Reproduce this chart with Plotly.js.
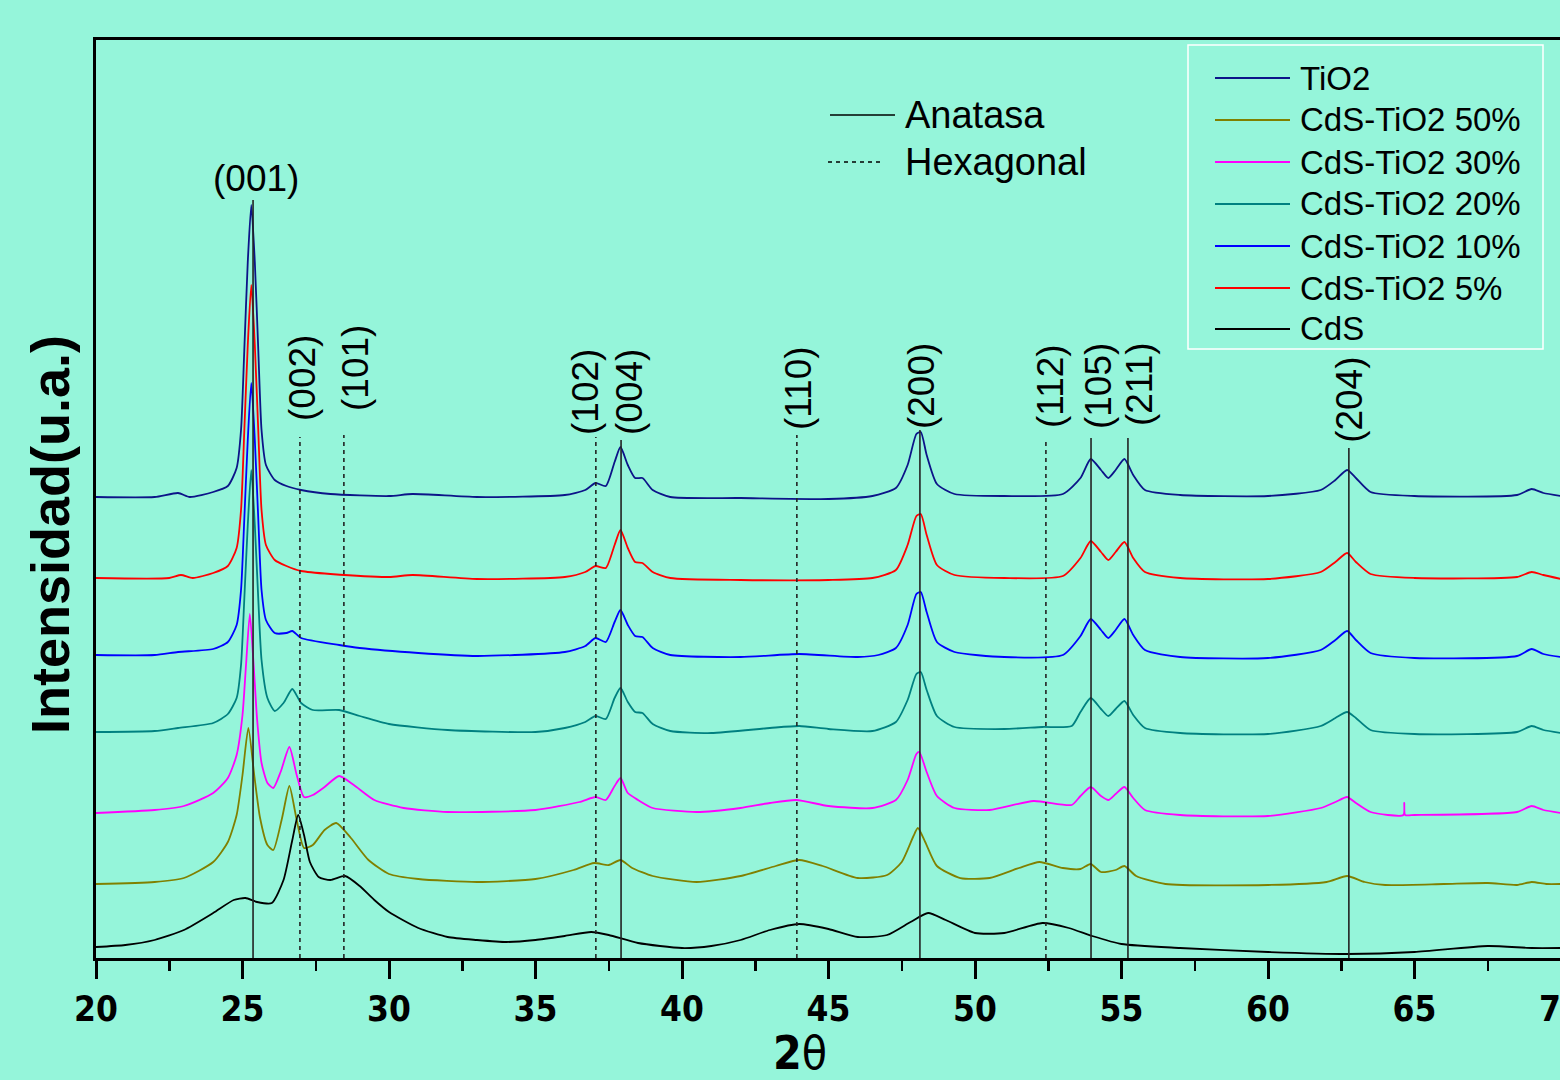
<!DOCTYPE html>
<html>
<head>
<meta charset="utf-8">
<script src="https://cdn.plot.ly/plotly-3.0.1.min.js"></script>
<style>
html,body{margin:0;padding:0;overflow:hidden;background:#95F5DA;}
#chart{width:1600px;height:1080px;}
</style>
</head>
<body>
<div id="chart"></div>
<script>
// ---- Data (2θ in degrees, intensity in a.u. incl. stacking offset) ----
const seriesNames = ['TiO2','CdS-TiO2 50%','CdS-TiO2 30%','CdS-TiO2 20%','CdS-TiO2 10%','CdS-TiO2 5%','CdS'];
const seriesColors = ['#0c1488','#808000','#ff00ff','#008080','#0000ff','#ff0000','#000000'];

const x_TiO2 = [20,22,22.8,23.2,24.0,24.5,24.8,24.95,25.06,25.18,25.3,25.42,25.54,25.65,25.8,26.1,26.5,27,28,30,30.8,33,36,36.7,37.05,37.4,37.7,37.9,38.15,38.4,38.65,39.0,39.6,42,45,46.5,47.3,47.7,48.0,48.15,48.35,48.7,49.3,51,53,53.6,53.95,54.3,54.55,54.8,55.1,55.4,55.8,57,60,61.8,62.3,62.7,63.0,63.5,65,68.5,69.0,69.4,70];
const y_TiO2 = [461,461,465,461,466,472,490,528,607,696,753,696,607,528,493,478,472,468,464,462,464,461,463,468,475,472,496,511,493,480,480,468,461,460,459,462,470,493,524,526,503,474,464,462,464,480,499,488,480,488,499,483,468,463,462,468,478,488,480,466,462,463,469,465,462];

const x_5 = [20,22.5,22.9,23.3,24.0,24.5,24.8,24.95,25.06,25.18,25.3,25.42,25.54,25.65,25.8,26.1,26.5,27,28,30,30.8,33,36,36.7,37.05,37.4,37.7,37.9,38.15,38.4,38.65,39.0,39.6,42,45,46.5,47.3,47.7,48.0,48.15,48.35,48.7,49.3,51,53,53.6,53.95,54.3,54.55,54.8,55.1,55.4,55.8,57,60,61.8,62.3,62.7,63.0,63.5,65,68.5,69.0,69.4,70];
const y_5 = [380,380,383,380,385,392,410,448,526,613,673,613,526,448,413,398,392,387,384,381,383,379,381,386,392,390,413,428,410,396,395,386,380,378,378,380,388,413,442,444,423,393,383,380,382,400,417,406,398,406,416,400,386,380,379,386,396,405,396,384,380,381,386,383,379];

const x_10 = [20,22,22.8,24.0,24.5,24.8,24.95,25.06,25.18,25.3,25.42,25.54,25.65,25.8,26.1,26.5,26.7,27.0,28.3,29,31,33,36,36.7,37.05,37.4,37.7,37.9,38.15,38.4,38.65,39.0,39.6,42,44,46,46.7,47.3,47.7,48.0,48.15,48.35,48.7,49.3,51,53,53.6,53.95,54.3,54.55,54.8,55.1,55.4,55.8,57,60,61.8,62.3,62.7,63.0,63.5,65,68.5,69.0,69.4,70];
const y_10 = [303,303,306,309,316,333,368,438,518,575,518,438,368,338,325,325,327,320,313,310,305,302,306,312,320,316,336,348,333,322,321,310,303,301,304,301,303,310,333,364,366,346,316,306,301,303,322,339,328,320,328,339,323,308,301,300,308,318,327,318,305,300,302,309,304,301];

const x_20 = [20,22,22.8,24.0,24.5,24.8,24.95,25.06,25.18,25.3,25.42,25.54,25.65,25.85,26.1,26.4,26.7,27.0,27.4,28.3,29,30,32,35,36,36.7,37.05,37.4,37.7,37.9,38.15,38.4,38.65,39.0,39.6,41,43,44,45,46.5,47.3,47.7,48.0,48.15,48.35,48.7,49.3,51,52.3,53.3,53.6,53.95,54.3,54.55,54.8,55.1,55.4,55.8,57,60,61.8,62.3,62.7,63.0,63.5,65,68.5,69.0,69.4,70];
const y_20 = [226,227,230,235,244,260,293,358,433,488,433,358,298,260,247,255,269,255,248,248,242,234,228,226,230,236,242,239,260,270,256,246,245,234,227,225,230,232,229,227,236,258,284,286,268,242,231,229,231,232,246,260,249,242,249,257,243,230,225,224,232,240,246,240,228,224,226,232,228,225];

const x_30 = [20,22,23,24.0,24.5,24.8,25.0,25.12,25.25,25.38,25.5,25.65,25.85,26.05,26.3,26.6,26.85,27.1,27.4,27.8,28.3,28.8,29.5,30.5,32,35,36.5,37.05,37.4,37.7,37.9,38.15,38.5,39.0,40.5,42,43,43.9,45,46.5,47.3,47.7,48.0,48.1,48.35,48.7,49.3,50.5,52,53.3,53.6,53.95,54.3,54.55,54.8,55.1,55.4,55.8,57,60,61.8,62.3,62.7,63.0,63.5,64.62,64.65,64.68,65,68.5,69.0,69.4,70];
const y_30 = [145,148,152,165,180,203,243,293,344,293,238,195,175,170,186,211,183,161,163,171,182,173,158,150,146,148,156,161,158,172,180,165,158,150,146,150,155,158,152,150,158,178,204,206,186,162,150,148,157,153,162,171,162,158,164,171,160,148,143,142,150,156,161,155,146,143,155,143,143,146,152,148,145];

const x_50 = [20,22,23,24.0,24.5,24.8,25.0,25.2,25.4,25.6,25.85,26.05,26.35,26.6,26.85,27.1,27.4,27.8,28.2,28.7,29.3,30.0,31,33,35,36.3,37.0,37.5,37.9,38.3,39,40.5,42,43.2,44.0,44.8,46,47,47.5,47.9,48.05,48.3,48.7,49.5,50.5,51.5,52.2,53,53.6,53.95,54.3,54.8,55.1,55.5,56.5,60,62.0,62.7,63.3,64,66,67.5,68.5,69.0,69.5,70];
const y_50 = [74,76,80,96,116,143,183,230,183,140,113,108,140,172,138,110,113,128,135,120,98,84,79,76,79,88,95,93,98,90,82,76,82,92,98,92,80,83,96,122,130,116,92,80,80,90,96,90,89,94,86,88,92,82,74,73,76,82,76,73,74,75,73,76,74,74];

const x_CdS = [20,21,22,23,24,24.7,25.1,25.5,26.0,26.4,26.7,26.9,27.1,27.3,27.6,28.0,28.5,29.0,29.5,30.0,31,32,33,34,35,36,36.9,37.5,38.5,40,41,42,43,44,45,46,47,47.8,48.4,49,50,51,52.3,53.2,54,55,57,60,62.7,65,67.5,69,70];
const y_CdS = [11,13,18,28,45,58,60,56,55,78,118,143,123,96,81,78,82,72,58,46,30,21,18,16,18,22,26,23,15,10,12,18,28,34,29,21,23,36,45,38,25,25,35,30,22,14,10,6,4,6,12,10,10];

// Reference phase lines (2θ) and their top (a.u.)
const anatasePos = [25.36, 37.92, 48.12, 53.96, 55.22, 62.76];
const anataseTop = [758, 518, 528, 520, 520, 510];
const hexPos = [26.96, 28.46, 37.06, 43.92, 52.42];
const hexTop = [521, 523, 521, 523, 516];

// Peak (hkl) labels
const hklText = ['(002)','(101)','(102)','(004)','(110)','(200)','(112)','(105)','(211)','(204)'];
const hklX = [27.03, 28.84, 36.69, 38.19, 43.96, 48.16, 52.56, 54.2, 55.6, 62.76];
const hklY = [580, 590, 566, 566, 570, 572, 572, 572, 574, 558];
const topLabel = '(001)';
const topLabelX = 25.46, topLabelY = 780;

const xTickVals = [20,25,30,35,40,45,50,55,60,65,70];

const xs = [x_TiO2, x_50, x_30, x_20, x_10, x_5, x_CdS];
const ys = [y_TiO2, y_50, y_30, y_20, y_10, y_5, y_CdS];

const traces = seriesNames.map((n,i)=>({
  type:'scatter', mode:'lines', name:n, x:xs[i], y:ys[i],
  line:{color:seriesColors[i], width:1.8, shape:'spline', smoothing:0.6},
  showlegend:false, hoverinfo:'skip'
}));

const shapes = [];
const annotations = [];
anatasePos.forEach((p,i)=>shapes.push({type:'line',xref:'x',yref:'y',x0:p,x1:p,y0:0,y1:anataseTop[i],line:{color:'#222',width:1.6},layer:'above'}));
hexPos.forEach((p,i)=>shapes.push({type:'line',xref:'x',yref:'y',x0:p,x1:p,y0:0,y1:hexTop[i],line:{color:'#222',width:1.6,dash:'4px,4px'},layer:'above'}));

const txtFont = {family:'Liberation Sans, Arial, sans-serif', color:'#000'};
hklText.forEach((t,i)=>annotations.push({xref:'x',yref:'y',x:hklX[i],y:hklY[i],text:t,showarrow:false,textangle:-90,
  font:Object.assign({size:37},txtFont),xanchor:'center',yanchor:'middle'}));
annotations.push({xref:'x',yref:'y',x:topLabelX,y:topLabelY,text:topLabel,showarrow:false,font:Object.assign({size:37},txtFont),xanchor:'center',yanchor:'middle'});

// pixel -> paper helpers (plot area: x 96..1561, y 40..958)
function px(x){return (x-96)/1465;}
function py(y){return (958-y)/918;}

// Phase legend (Anatasa / Hexagonal)
shapes.push({type:'line',xref:'paper',yref:'paper',x0:px(830),x1:px(895),y0:py(115),y1:py(115),line:{color:'#000',width:1.5}});
shapes.push({type:'line',xref:'paper',yref:'paper',x0:px(828),x1:px(882),y0:py(162),y1:py(162),line:{color:'#000',width:1.5,dash:'4px,4px'}});
annotations.push({xref:'paper',yref:'paper',x:px(903),y:py(115),text:'Anatasa',showarrow:false,xanchor:'left',yanchor:'middle',font:Object.assign({size:38},txtFont)});
annotations.push({xref:'paper',yref:'paper',x:px(903),y:py(162),text:'Hexagonal',showarrow:false,xanchor:'left',yanchor:'middle',font:Object.assign({size:38},txtFont)});

// Series legend box
shapes.push({type:'rect',xref:'paper',yref:'paper',x0:px(1188),x1:px(1543),y0:py(45),y1:py(349),line:{color:'#ffffff',width:1.5},fillcolor:'rgba(0,0,0,0)'});
const legRows = [78,120,162,204,246,288,329];
seriesNames.forEach((n,i)=>{
  shapes.push({type:'line',xref:'paper',yref:'paper',x0:px(1215),x1:px(1290),y0:py(legRows[i]),y1:py(legRows[i]),line:{color:seriesColors[i],width:1.8}});
  annotations.push({xref:'paper',yref:'paper',x:px(1298),y:py(legRows[i]),text:n,showarrow:false,xanchor:'left',yanchor:'middle',font:Object.assign({size:33},txtFont)});
});

// Y axis title
annotations.push({xref:'paper',yref:'paper',x:px(50),y:py(535),text:'<b>Intensidad(u.a.)</b>',showarrow:false,textangle:-90,xanchor:'center',yanchor:'middle',
  font:{family:'Liberation Sans, Arial, sans-serif',size:54,color:'#000'}});

// X axis title (placed like the reference, left of centre)
annotations.push({xref:'paper',yref:'paper',x:px(800),y:py(1053),text:'<b>2</b>θ',showarrow:false,xanchor:'center',yanchor:'middle',borderpad:0,
  font:{family:'DejaVu Sans Condensed, sans-serif',size:46,color:'#000'}});

const layout = {
  width:1600, height:1080,
  margin:{l:96,r:39,t:40,b:122},
  paper_bgcolor:'#95F5DA', plot_bgcolor:'#95F5DA',
  showlegend:false,
  xaxis:{range:[20,70], tickvals:xTickVals, ticktext:xTickVals.map(String), ticks:'outside', ticklen:18, tickwidth:3, tickcolor:'#000',
    showline:true, linewidth:3, linecolor:'#000', mirror:true, showgrid:false, zeroline:false,
    minor:{tick0:20, dtick:2.5, ticks:'outside', ticklen:10, tickwidth:2.5, tickcolor:'#000', showgrid:false},
    tickfont:{family:'DejaVu Sans Condensed, sans-serif', size:35, color:'#000', weight:'bold'}},
  yaxis:{range:[0,918], showticklabels:false, ticks:'', showline:true, linewidth:3, linecolor:'#000', mirror:true, showgrid:false, zeroline:false},
  shapes:shapes, annotations:annotations
};

Plotly.newPlot('chart', traces, layout, {displayModeBar:false, staticPlot:true});
</script>
</body>
</html>
